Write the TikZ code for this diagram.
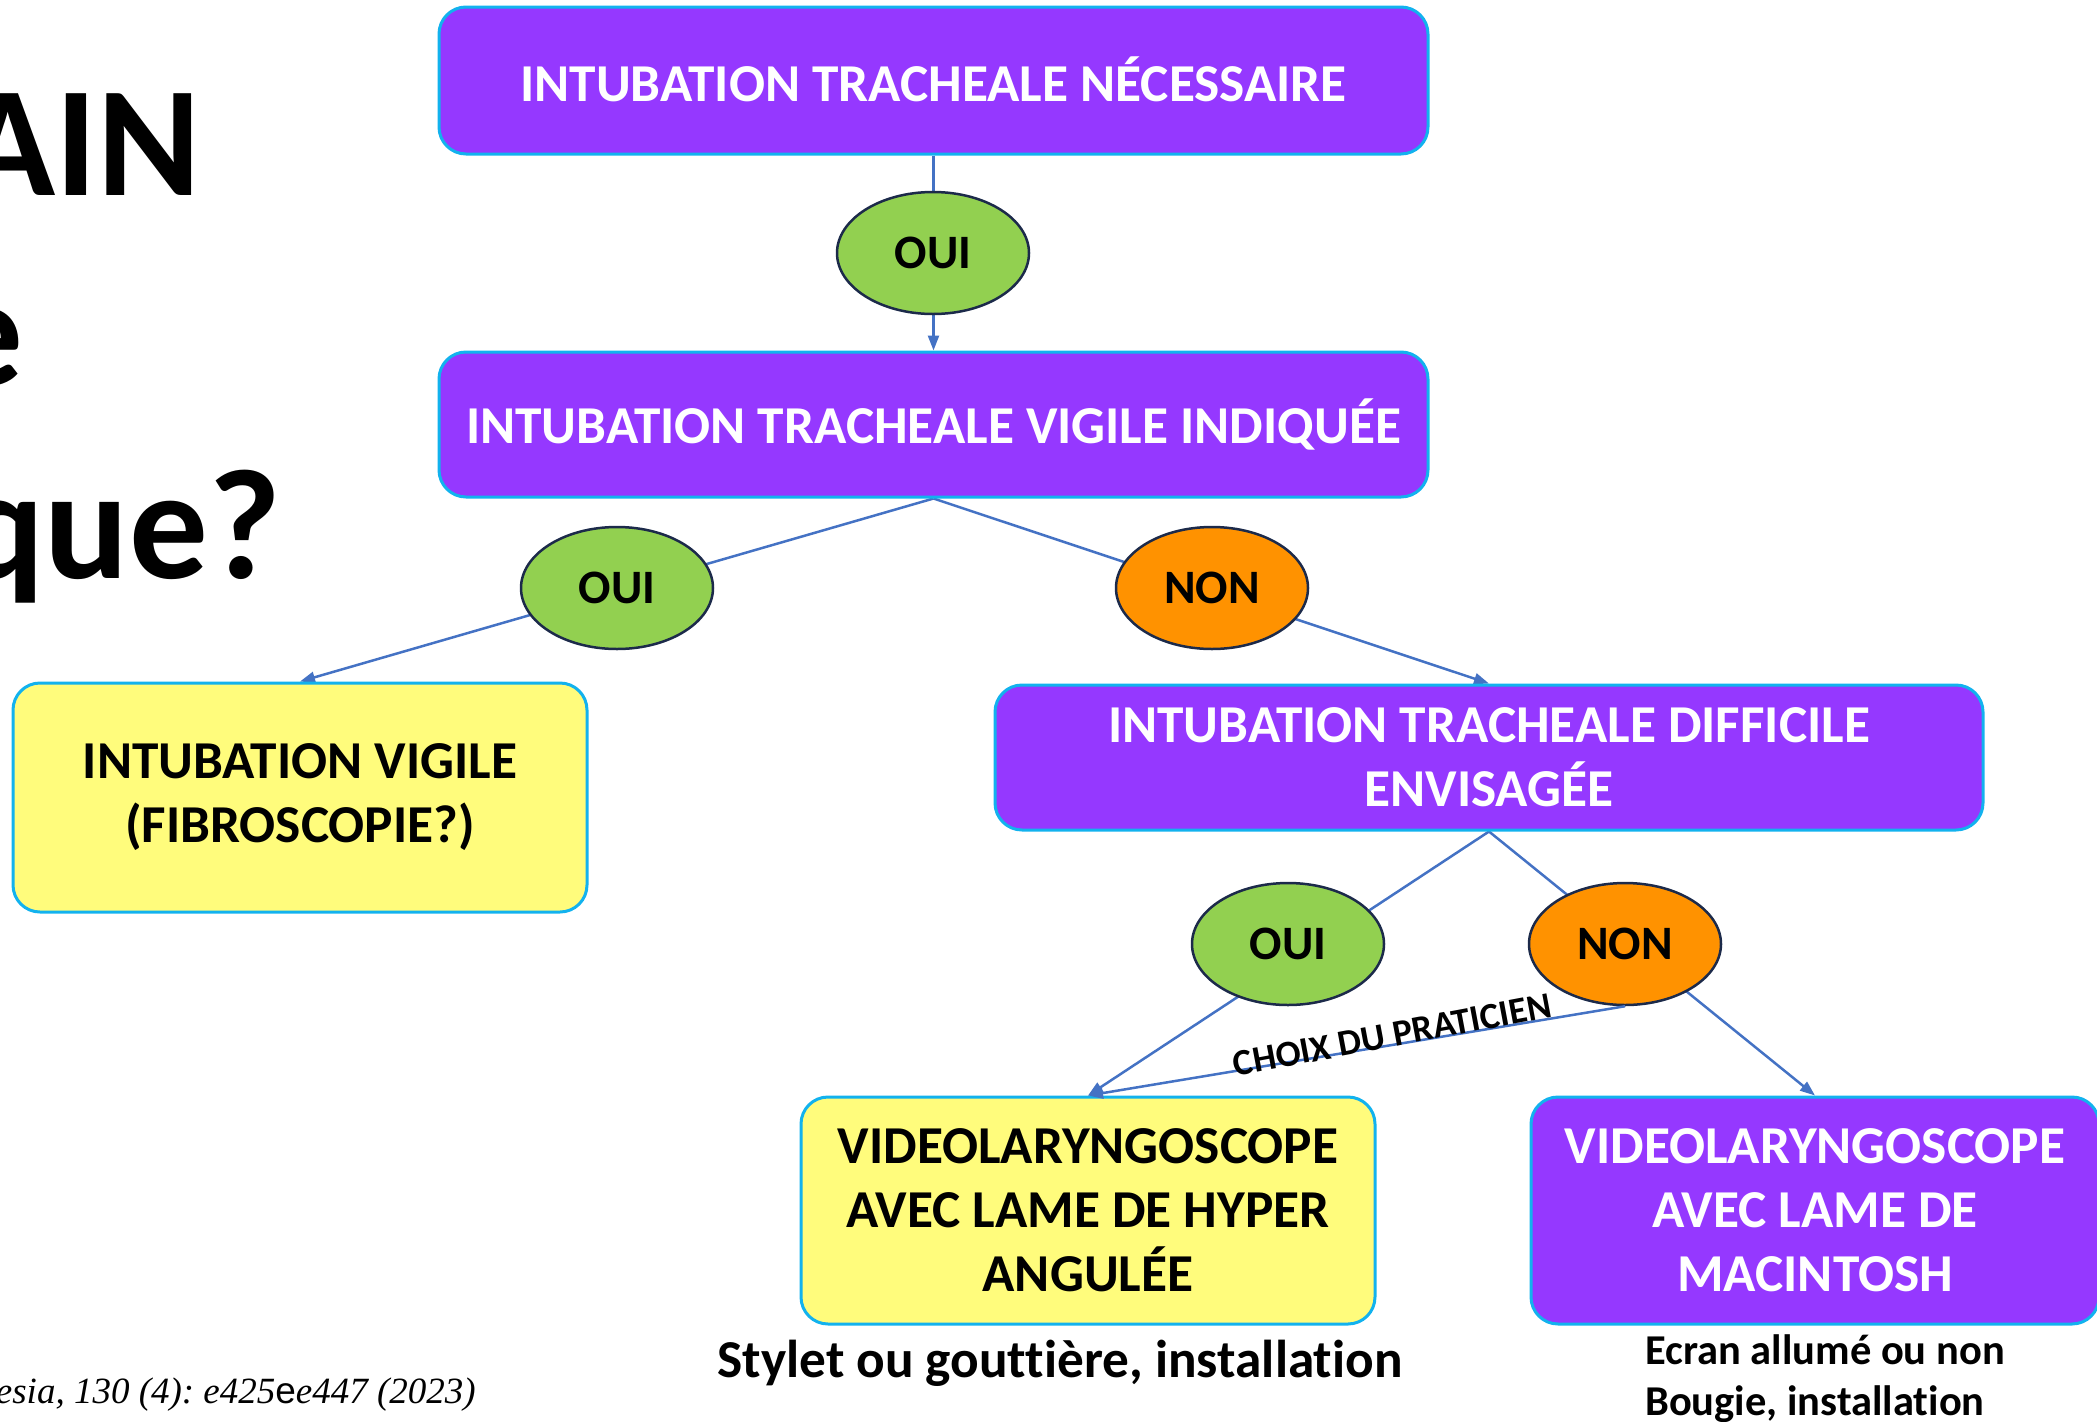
\documentclass[tikz,border=0pt]{standalone}
\usepackage{fontspec}
\setmainfont{Carlito}[Ligatures=NoCommon]
\newfontfamily\citefont{Liberation Serif}
\newfontfamily\citesans{Liberation Sans}
\usetikzlibrary{shapes.geometric,arrows.meta}

\definecolor{boxpurple}{HTML}{9538FF}
\definecolor{boxcyan}{HTML}{12B2EE}
\definecolor{boxyellow}{HTML}{FFFC7C}
\definecolor{ouigreen}{HTML}{92D050}
\definecolor{nonorange}{HTML}{FF9200}
\definecolor{ovalline}{HTML}{1C2A4A}
\definecolor{linkblue}{HTML}{4472C4}

\pgfdeclarelayer{background}
\pgfsetlayers{background,main}
\frenchspacing

\tikzset{
  flowbox/.style={draw=boxcyan, line width=3pt, rounded corners=27pt,
    align=center, inner sep=0pt, font=\bfseries\fontsize{53.3}{64}\selectfont},
  purplebox/.style={flowbox, fill=boxpurple, text=white},
  yellowbox/.style={flowbox, fill=boxyellow, text=black},
  answer/.style={ellipse, draw=ovalline, line width=2.5pt, minimum width=192pt,
    minimum height=122pt, inner sep=0pt, font=\bfseries\fontsize{48}{52}\selectfont},
  yes/.style={answer, fill=ouigreen},
  no/.style={answer, fill=nonorange},
  link/.style={draw=linkblue, line width=2.5pt},
  arrowlink/.style={link, -{Triangle[length=15pt,width=11pt]}},
  note/.style={font=\bfseries\fontsize{53.3}{60}\selectfont, inner sep=0pt},
  title/.style={anchor=base east, inner sep=0pt, font=\bfseries\fontsize{157}{190}\selectfont},
}

\begin{document}
\begin{tikzpicture}[x=1pt, y=-1pt]
\useasboundingbox (0,0) rectangle (2097,1422);

% left-hand title (partly outside the frame)
\node[title] (tA) at (201,195) {AIN};
\node[title] (tB) at (24,385) {e};
\node[title] (tC) at (281,578) {que?};

% reference line
\node[anchor=base east, inner sep=0pt, font=\citefont\itshape\fontsize{37}{40}\selectfont] (cite) at (476,1403)
  {esia, 130 (4): e425{\citesans\upshape e}e447 (2023)};

% boxes
\node[purplebox, minimum width=989pt, minimum height=147pt] (need) at (933.5,80.5)
  {\raisebox{2pt}{INTUBATION TRACHEALE NÉCESSAIRE}};
\node[purplebox, minimum width=989pt, minimum height=145pt] (awake) at (933.5,424.5)
  {INTUBATION TRACHEALE VIGILE INDIQUÉE};
\node[yellowbox, minimum width=574pt, minimum height=229pt] (fibro) at (300,797.5)
  {\raisebox{-7pt}{\parbox{560pt}{\centering INTUBATION VIGILE\\(FIBROSCOPIE?)}}};
\node[purplebox, minimum width=988pt, minimum height=145pt] (hard) at (1489,757.5)
  {INTUBATION TRACHEALE DIFFICILE\\ENVISAGÉE};
\node[yellowbox, minimum width=574pt, minimum height=227pt] (hyper) at (1088,1210.5)
  {VIDEOLARYNGOSCOPE\\AVEC LAME DE HYPER\\ANGULÉE};
\node[purplebox, minimum width=568pt, minimum height=227pt] (mac) at (1815,1210.5)
  {VIDEOLARYNGOSCOPE\\AVEC LAME DE\\MACINTOSH};

% answers
\node[yes] (oui1) at (933,253) {OUI};
\node[yes] (oui2) at (617,588) {OUI};
\node[no]  (non1) at (1212,588) {NON};
\node[yes] (oui3) at (1288,944) {OUI};
\node[no]  (non3) at (1625,944) {NON};

% connectors, running behind the answer ovals
\begin{pgfonlayer}{background}
\draw[arrowlink] (need.south) -- (awake.north);
\draw[arrowlink] (awake.south) -- (fibro.north);
\draw[arrowlink] (awake.south) -- (hard.north);
\draw[arrowlink] (hard.south) -- (hyper.north);
\draw[arrowlink] (hard.south) -- (mac.north);
\end{pgfonlayer}
\draw[arrowlink] (non3.south) -- node[pos=0.43, sloped, anchor=base, yshift=-2pt, rotate=1.2, inner sep=0pt,
  font=\bfseries\fontsize{37}{40}\selectfont] (choice) {CHOIX DU PRATICIEN} (hyper.north);

% notes under the bottom boxes
\node[note, anchor=base] (n1) at (1060,1377) {Stylet ou gouttière, installation};
\node[note, anchor=base west, align=left, font=\bfseries\fontsize{42.5}{51}\selectfont] (n2) at (1645,1415)
  {Ecran allumé ou non\\Bougie, installation};
\end{tikzpicture}
\end{document}
